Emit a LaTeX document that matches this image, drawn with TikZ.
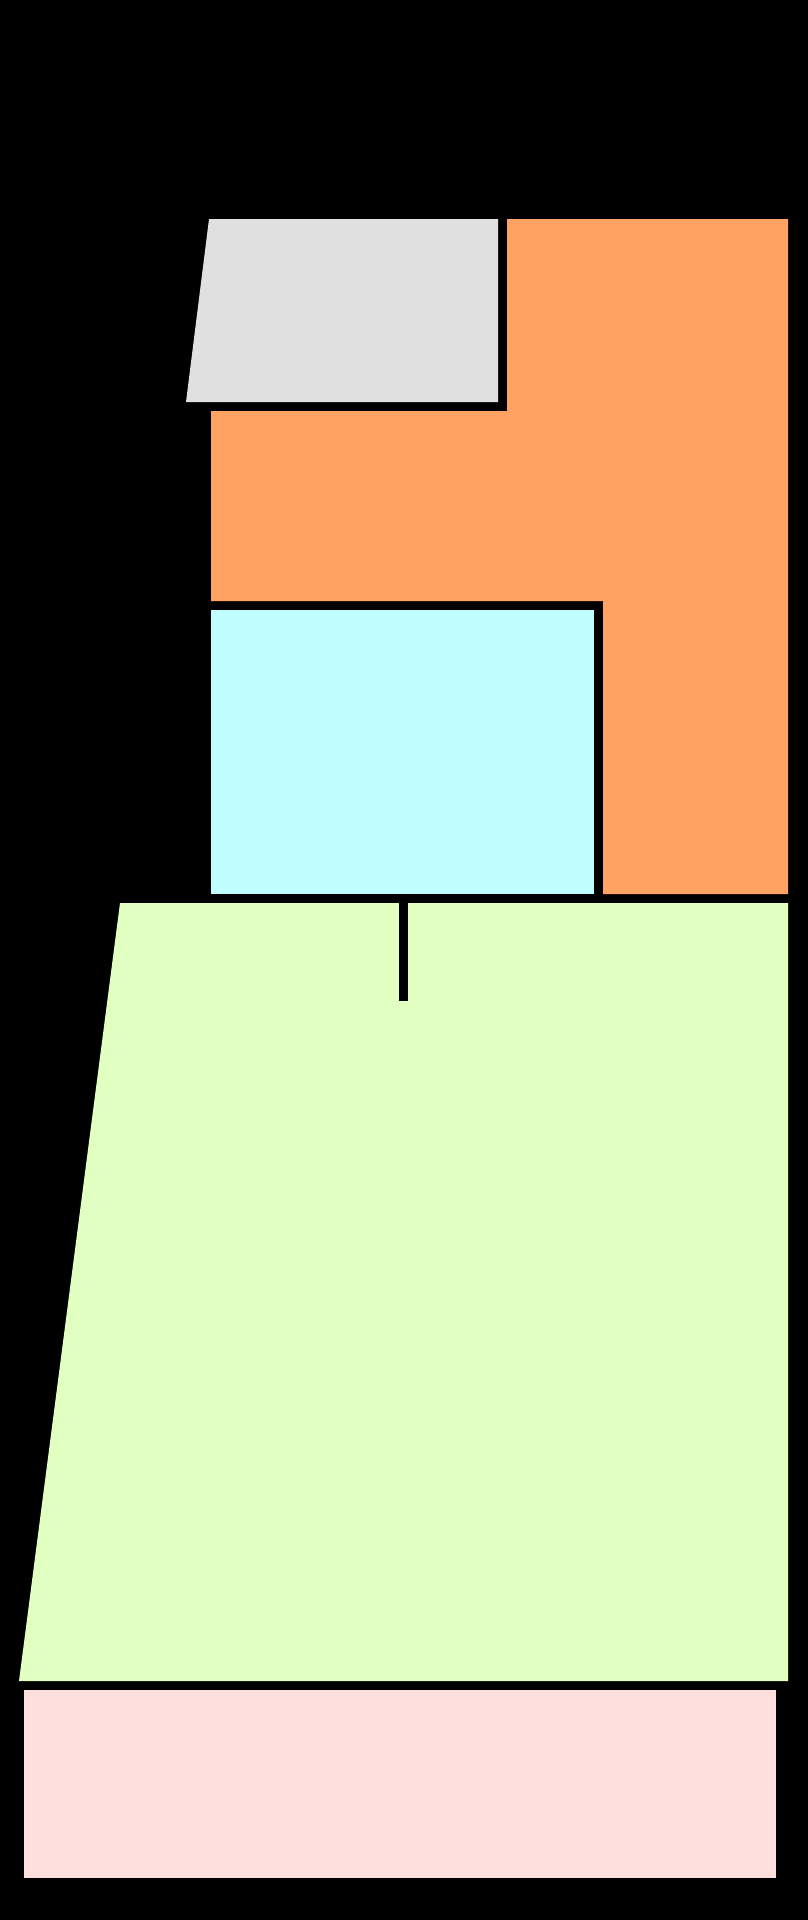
\documentclass[tikz,border=0pt]{standalone}
\usepackage{tikz}
\definecolor{grayfill}{HTML}{E0E0E0}
\definecolor{orangefill}{HTML}{FFA262}
\definecolor{cyanfill}{HTML}{C0FFFF}
\definecolor{greenfill}{HTML}{E0FFC0}
\definecolor{pinkfill}{HTML}{FFDEDE}
\tikzset{
  panel/.style={fill=#1, draw=none},
  stem/.style={draw=black, line width=9pt, line cap=butt}
}
\begin{document}
\begin{tikzpicture}[x=1pt,y=-1pt]
\useasboundingbox (0,0) rectangle (807,1920);
\fill[black] (-10,-10) rectangle (817,1930);
% gray parallelogram
\path[panel=grayfill] (209,219) -- (498,219) -- (498,402) -- (186,402) -- cycle;
% orange L-shape
\path[panel=orangefill] (507,219) -- (788,219) -- (788,894) -- (603,894) -- (603,601) -- (211,601) -- (211,411) -- (507,411) -- cycle;
% cyan box
\path[panel=cyanfill] (211,610) rectangle (594,894);
% green trapezoid
\path[panel=greenfill] (120,903) -- (788,903) -- (788,1681) -- (19,1681) -- cycle;
% stem
\coordinate (stemtop) at (403.5,903);
\coordinate (stembot) at (403.5,1001);
\draw[stem] (stemtop) -- (stembot);
% pink box
\path[panel=pinkfill] (24,1690) rectangle (776,1878);
\end{tikzpicture}
\end{document}
